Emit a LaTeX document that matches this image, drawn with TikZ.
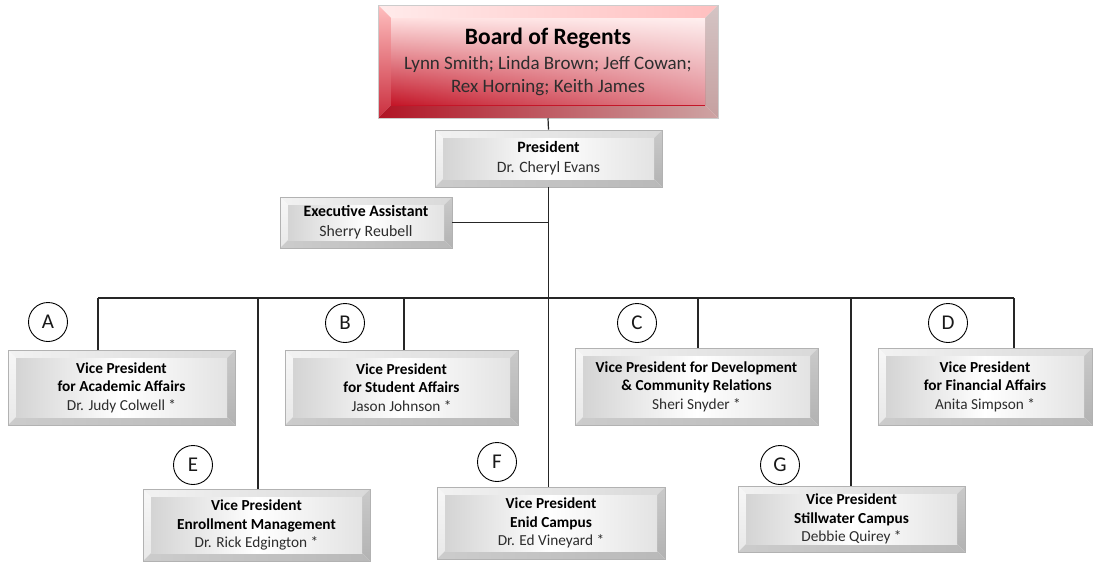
\documentclass[tikz,border=0pt]{standalone}
\usepackage{fontspec}
\setmainfont{Carlito}
\usetikzlibrary{fadings}
\definecolor{bred}{RGB}{196,22,40}
\definecolor{namec}{RGB}{45,45,45}
\tikzfading[name=fadeleft, left color=transparent!100, right color=transparent!0]
\newcommand\bevfaces[6]{%
  \coordinate (bvNW) at (path picture bounding box.north west);
  \coordinate (bvNE) at (path picture bounding box.north east);
  \coordinate (bvSW) at (path picture bounding box.south west);
  \coordinate (bvSE) at (path picture bounding box.south east);
  \coordinate (bvnw) at ([shift={(#1,-#1)}]bvNW);
  \coordinate (bvne) at ([shift={(-#1,-#1)}]bvNE);
  \coordinate (bvsw) at ([shift={(#1,#1)}]bvSW);
  \coordinate (bvse) at ([shift={(-#1,#1)}]bvSE);
  \shade[#2] (bvNW)--(bvNE)--(bvne)--(bvnw)--cycle;
  \shade[#3] (bvNW)--(bvnw)--(bvsw)--(bvSW)--cycle;
  \shade[#4] (bvNE)--(bvSE)--(bvse)--(bvne)--cycle;
  \shade[#5] (bvSW)--(bvsw)--(bvse)--(bvSE)--cycle;
  \shade[#6] (bvnw) rectangle (bvse);
}
\tikzset{
  graybox/.style={rectangle, inner sep=0pt, draw=gray!60, line width=0.6pt,
    align=center, text=namec,
    path picture={\bevfaces{8pt}%
      {left color=gray!10, right color=gray!30}%
      {top color=gray!6, bottom color=gray!18}%
      {top color=gray!42, bottom color=gray!60}%
      {left color=gray!40, right color=gray!55}%
      {left color=gray!34, right color=gray!22, middle color=white}}},
  vpbox/.style={graybox, font=\fontsize{15.3}{18.5}\selectfont},
  redbox/.style={rectangle, inner sep=0pt, draw=gray!40, line width=0.5pt,
    align=center, text=namec, font=\fontsize{19}{23}\selectfont,
    path picture={\bevfaces{13pt}%
      {left color=red!8!white, right color=red!25!white}%
      {top color=red!25!white, bottom color=bred!90}%
      {top color=red!15!gray!40, bottom color=red!25!gray!60}%
      {left color=bred!90!black, right color=red!30!gray!55}%
      {top color=red!12!white, bottom color=bred}%
      \fill[white, path fading=fadeleft, fill opacity=0.5] (bvnw) rectangle (bvse);}},
  circ/.style={circle, draw=black, line width=0.9pt, minimum size=39pt, inner sep=0pt,
    font=\fontsize{21}{21}\selectfont, text=black!90},
  conn/.style={draw=black!85, line width=1.2pt},
}
\newcommand\tb[1]{\textbf{\color{black}#1}}
\begin{document}
\begin{tikzpicture}[x=1pt,y=-1pt]
\useasboundingbox (0,0) rectangle (1094,562);
\fill[white] (0,0) rectangle (1094,562);

% boxes
\node[redbox, minimum width=340pt, minimum height=113pt] (board) at (548,61.5)
  {{\fontsize{23.5}{25}\selectfont\tb{Board of Regents}}\\[2pt]Lynn Smith; Linda Brown; Jeff Cowan;\\Rex Horning; Keith James};
\node[graybox, font=\fontsize{15.8}{20}\selectfont, minimum width=227pt, minimum height=57pt] (pres) at (548.5,158.5)
  {\tb{President}\\Dr. Cheryl Evans};
\node[graybox, font=\fontsize{15.8}{20}\selectfont, minimum width=172pt, minimum height=51pt] (exec) at (366,222.5)
  {\tb{Executive Assistant}\\Sherry Reubell};

\node[vpbox, minimum width=227pt, minimum height=75pt] (vpA) at (121.5,387.5)
  {\tb{Vice President}\\\tb{for Academic Affairs}\\Dr. Judy Colwell *};
\node[vpbox, minimum width=233pt, minimum height=75pt] (vpB) at (401.5,387.5)
  {\tb{Vice President}\\\tb{for Student Affairs}\\Jason Johnson *};
\node[vpbox, minimum width=243pt, minimum height=77pt] (vpC) at (696.5,386.5)
  {\tb{Vice President for Development}\\\tb{\& Community Relations}\\Sheri Snyder *};
\node[vpbox, minimum width=214pt, minimum height=77pt] (vpD) at (985,386.5)
  {\tb{Vice President}\\\tb{for Financial Affairs}\\Anita Simpson *};
\node[vpbox, minimum width=227pt, minimum height=72pt] (vpE) at (256.5,525)
  {\tb{Vice President}\\\tb{Enrollment Management}\\Dr. Rick Edgington *};
\node[vpbox, minimum width=228pt, minimum height=72pt] (vpF) at (551,523)
  {\tb{Vice President}\\\tb{Enid Campus}\\Dr. Ed Vineyard *};
\node[vpbox, minimum width=227pt, minimum height=66pt] (vpG) at (851.5,519)
  {\tb{Vice President}\\\tb{Stillwater Campus}\\Debbie Quirey *};

% circles
\node[circ] (cA) at (48,322) {A};
\node[circ] (cB) at (345,323) {B};
\node[circ] (cC) at (637,323) {C};
\node[circ] (cD) at (948,323) {D};
\node[circ] (cE) at (193,465) {E};
\node[circ] (cF) at (497,462) {F};
\node[circ] (cG) at (780,465) {G};

% bus coordinates
\coordinate (busA) at (98,298);
\coordinate (busE) at (258,298);
\coordinate (busB) at (404,298);
\coordinate (busC) at (698,298);
\coordinate (busG) at (851,298);
\coordinate (busD) at (1014,298);

% connectors
\draw[conn] (board.south) -- (pres.north);
\draw[conn] (pres.south) -- (pres.south |- vpF.north);
\draw[conn] (exec.east) -- (exec.east -| pres.south);
\draw[conn] (busA) -- (busD);
\draw[conn] (busA) -- (busA |- vpA.north);
\draw[conn] (busE) -- (busE |- vpE.north);
\draw[conn] (busB) -- (busB |- vpB.north);
\draw[conn] (busC) -- (busC |- vpC.north);
\draw[conn] (busG) -- (busG |- vpG.north);
\draw[conn] (busD) -- (busD |- vpD.north);
\end{tikzpicture}
\end{document}
